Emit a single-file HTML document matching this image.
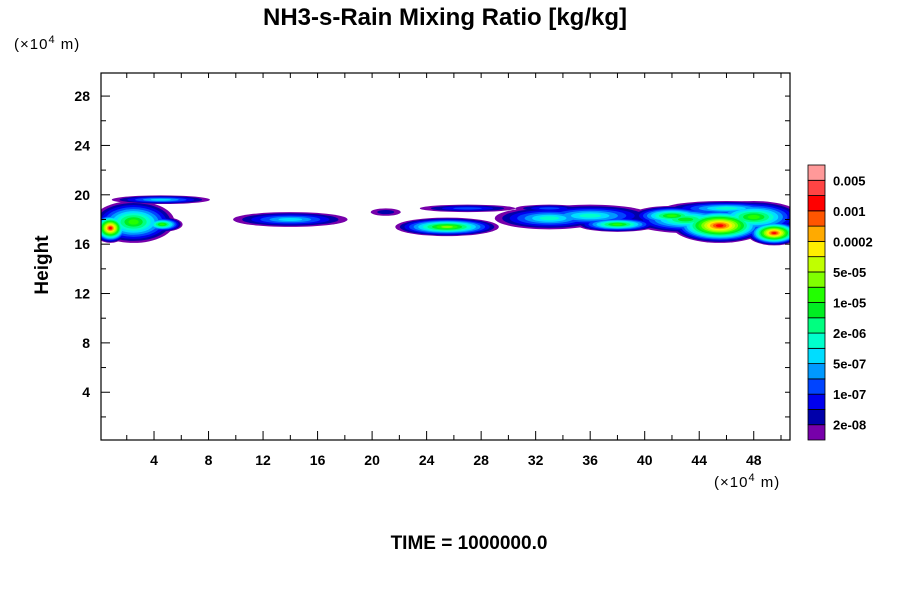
<!DOCTYPE html>
<html><head><meta charset="utf-8"><style>
body{margin:0;background:#fff;}
svg{display:block;font-family:"Liberation Sans",sans-serif;}
</style></head><body>
<svg id="c" width="900" height="600" xmlns="http://www.w3.org/2000/svg">
<text x="445" y="25" text-anchor="middle" font-size="24" font-weight="bold">NH3-s-Rain Mixing Ratio [kg/kg]</text>
<text x="14" y="49" font-size="15" letter-spacing="1">(×10<tspan dy="-6" font-size="11">4</tspan><tspan dy="6"> m)</tspan></text>
<text x="714" y="487" font-size="15" letter-spacing="1">(×10<tspan dy="-6" font-size="11">4</tspan><tspan dy="6"> m)</tspan></text>
<text x="48" y="265" font-size="19" font-weight="bold" text-anchor="middle" transform="rotate(-90 48 265)">Height</text>
<text x="469" y="549" font-size="19" font-weight="bold" text-anchor="middle">TIME = 1000000.0</text>
<g id="field"></g>
<g id="axes"></g>
<g id="cbar"></g>
</svg>
<script>
const NS="http://www.w3.org/2000/svg";
const xTicks=[4,8,12,16,20,24,28,32,36,40,44,48];
const yTicks=[4,8,12,16,20,24,28];
const levelColors=["#7700aa","#0000aa","#0000ee","#0044ff","#0099ff","#00ddff","#00ffcc","#00ff80","#00ee22","#22ff00","#80ff00","#c0ff00","#ffee00","#ffaa00","#ff5500","#ff0000","#ff4444","#ff9999"];
const levelLabels=["2e-08","1e-07","5e-07","2e-06","1e-05","5e-05","0.0002","0.001","0.005"];
// blobs: center x, center y (1e4 m), half width, half height, peak level
const blobX=[2.5,0.8,4.6,4.5,14,21,25.5,27,33,38,33,45.5,49.5,46,42,36,43,48];
const blobY=[17.8,17.3,17.6,19.6,18,18.6,17.4,18.9,18.1,17.6,18.9,17.5,16.9,18.9,18.3,18.3,18,18.2];
const blobRX=[3,1.3,1.5,3.6,4.2,1.1,3.8,3.5,4,3,2.5,3.5,2,4.5,3,4.5,4,3.5];
const blobRY=[1.7,1.2,0.6,0.35,0.6,0.3,0.75,0.3,0.9,0.6,0.3,1.4,1,0.6,0.8,0.9,1.1,1.3];
const blobPeak=[9,15,9,5,5,1,10,3,6,9,3,15,15,6,9,6,8,9];
const X0=99.5,XS=13.63,Y0=441.6,YS=12.34,L=101,R=790,T=73,B=440;
const xs=v=>X0+XS*v, ys=v=>Y0-YS*v;
const svg=document.getElementById('c');
const f=document.getElementById('field');
const ax=document.getElementById('axes');
const cb=document.getElementById('cbar');
function mk(tag,a,p){const e=document.createElementNS(NS,tag);for(const k in a)e.setAttribute(k,a[k]);p.appendChild(e);return e;}
const clip=mk('clipPath',{id:'pc'},svg);mk('rect',{x:L,y:T,width:R-L,height:B-T},clip);
f.setAttribute('clip-path','url(#pc)');
const maxPeak=Math.max(...blobPeak);
for(let k=0;k<=maxPeak;k++){
  for(let i=0;i<blobX.length;i++){
    const p=blobPeak[i]; if(k>p) continue;
    const s=1-k/(p+1.3);
    const e=mk('ellipse',{cx:xs(blobX[i]),cy:ys(blobY[i]),rx:XS*blobRX[i]*s,ry:YS*blobRY[i]*s,fill:levelColors[k]},f);
    
    
  }
}
mk('rect',{x:L,y:T,width:R-L,height:B-T,fill:'none',stroke:'#000','stroke-width':1.2},ax);
for(let v=2;v<=50;v+=2){const x=xs(v);if(x>R)break;const major=v%4===0;
  mk('line',{x1:x,y1:B,x2:x,y2:B-(major?9:5),stroke:'#000'},ax);
  mk('line',{x1:x,y1:T,x2:x,y2:T+5,stroke:'#000'},ax);}
for(let v=2;v<=29;v+=2){const y=ys(v);const major=v%4===0;
  mk('line',{x1:L,y1:y,x2:L+(major?9:5),y2:y,stroke:'#000'},ax);
  mk('line',{x1:R,y1:y,x2:R-5,y2:y,stroke:'#000'},ax);}
xTicks.forEach(v=>{const t=mk('text',{x:xs(v),y:465,'text-anchor':'middle','font-size':14,'font-weight':'bold'},ax);t.textContent=v;
  
  });
yTicks.forEach(v=>{const t=mk('text',{x:90,y:ys(v)+5,'text-anchor':'end','font-size':14,'font-weight':'bold'},ax);t.textContent=v;
  
  });
const cbTop=165,cbBot=440,n=levelColors.length,h=(cbBot-cbTop)/n;
levelColors.forEach((c,i)=>{const r=mk('rect',{x:808,y:cbBot-(i+1)*h,width:17,height:h,fill:c,stroke:'#000','stroke-width':0.8},cb);
  
  });
levelLabels.forEach((s,j)=>{const t=mk('text',{x:833,y:cbBot-(2*j+1)*h+5,'font-size':13,'font-weight':'bold'},cb);t.textContent=s;
  
  });
</script>
</body></html>
